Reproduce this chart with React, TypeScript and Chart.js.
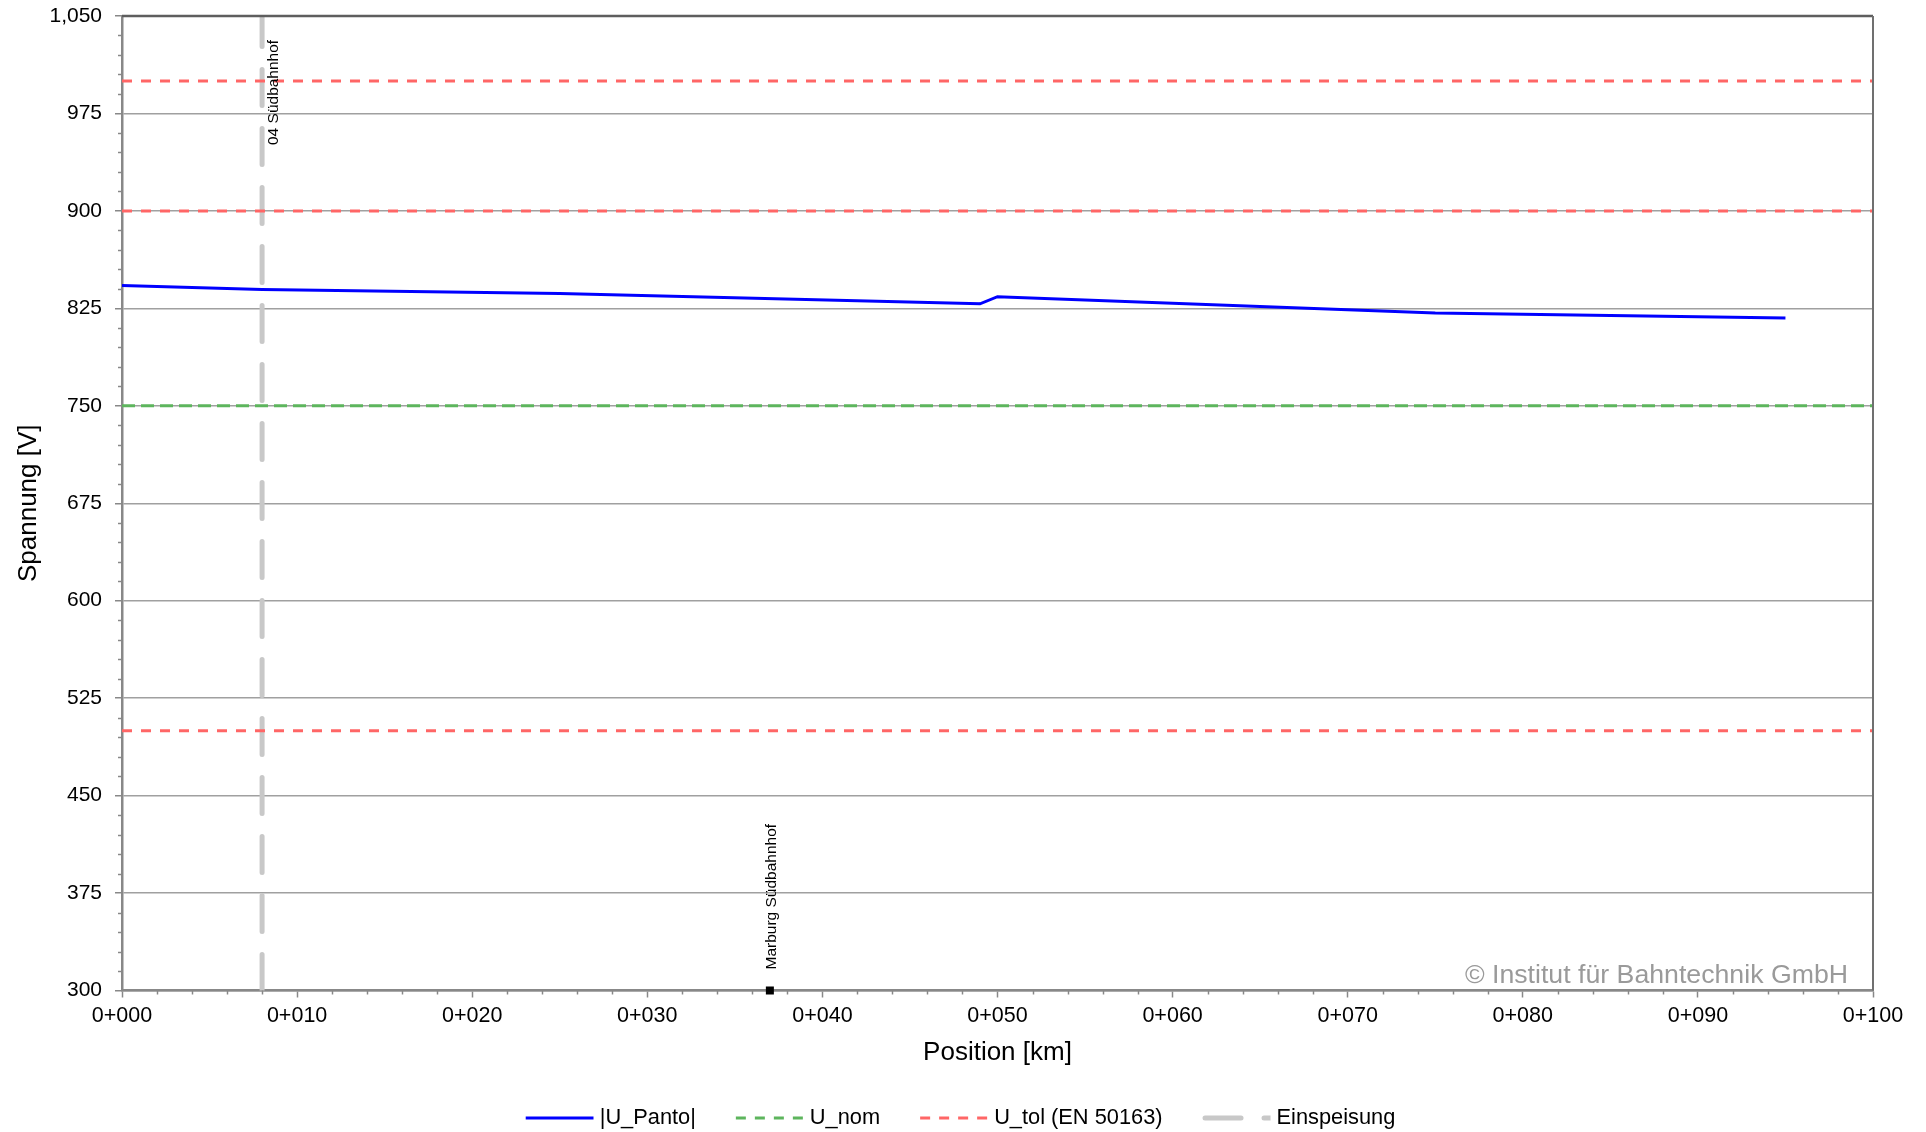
import { useEffect, useRef } from "react";
import { Chart, registerables } from "chart.js";

Chart.register(...registerables);

// ---- data ----
const positionKm = [0, 8, 25, 49, 50, 75, 95];
const uPanto = [842.5, 839.5, 836.5, 828.5, 834, 821.5, 817.5];
const uNom = 750;
const uTolLevels = [1000, 900, 500];
const feedKm = 8;
const feedLabel = "04 Südbahnhof";
const stationKm = 37;
const stationLabel = "Marburg Südbahnhof";
const seriesNames = ["|U_Panto|", "U_nom", "U_tol (EN 50163)", "Einspeisung"];
const xTitle = "Position [km]";
const yTitle = "Spannung [V]";
const copyrightText = "© Institut für Bahntechnik GmbH";
const xMin = 0, xMax = 100, xStep = 10, xMinorStep = 2;
const yMin = 300, yMax = 1050, yStep = 75, yMinorStep = 15;

// ---- styles ----
const FONT = '"Liberation Sans", Arial, Helvetica, sans-serif';
const C_BLUE = "#0000FF";
const C_GREEN = "#5DB55D";
const C_RED = "#FF6666";
const C_GRAY = "#C8C8C8";
const DASH_TOL = [10, 9];
const DASH_NOM = [13, 6];
const DASH_FEED = [36, 23];

const decorPlugin = {
  id: "decor",
  afterDraw(chart: any) {
    const { ctx, chartArea: ca, scales } = chart;
    const x = scales.x;
    const y = scales.y;
    ctx.save();

    // minor ticks
    ctx.strokeStyle = "#888888";
    ctx.lineWidth = 1.5;
    for (let v = yMin; v <= yMax; v += yMinorStep) {
      if ((v - yMin) % yStep === 0) continue;
      const py = Math.round(y.getPixelForValue(v)) + 0.5;
      ctx.beginPath();
      ctx.moveTo(ca.left - 4, py);
      ctx.lineTo(ca.left, py);
      ctx.stroke();
    }
    for (let v = xMin; v <= xMax; v += xMinorStep) {
      if ((v - xMin) % xStep === 0) continue;
      const px = Math.round(x.getPixelForValue(v)) + 0.5;
      ctx.beginPath();
      ctx.moveTo(px, ca.bottom);
      ctx.lineTo(px, ca.bottom + 4);
      ctx.stroke();
    }

    // frame top and right
    ctx.strokeStyle = "#5E5E5E";
    ctx.lineWidth = 2.5;
    ctx.beginPath();
    ctx.moveTo(ca.left, ca.top);
    ctx.lineTo(ca.right, ca.top);
    ctx.stroke();
    ctx.strokeStyle = "#707070";
    ctx.lineWidth = 2;
    ctx.beginPath();
    ctx.moveTo(ca.right, ca.top);
    ctx.lineTo(ca.right, ca.bottom);
    ctx.stroke();

    // station labels (rotated)
    ctx.fillStyle = "#000000";
    ctx.font = `15.5px ${FONT}`;
    ctx.textAlign = "left";
    ctx.textBaseline = "alphabetic";
    ctx.save();
    ctx.translate(x.getPixelForValue(feedKm) + 16, ca.top + 129);
    ctx.rotate(-Math.PI / 2);
    ctx.fillText(feedLabel, 0, 0);
    ctx.restore();
    ctx.save();
    ctx.translate(x.getPixelForValue(stationKm) + 6.5, ca.bottom - 21);
    ctx.rotate(-Math.PI / 2);
    ctx.fillText(stationLabel, 0, 0);
    ctx.restore();

    // copyright
    ctx.font = `26.7px ${FONT}`;
    ctx.fillStyle = "#9A9A9A";
    ctx.textAlign = "right";
    ctx.textBaseline = "alphabetic";
    ctx.fillText(copyrightText, ca.right - 25, ca.bottom - 7.5);

    // legend
    const items = [
      { label: seriesNames[0], color: C_BLUE, dash: [] as number[], width: 3, cap: "butt" },
      { label: seriesNames[1], color: C_GREEN, dash: DASH_TOL, width: 3, cap: "butt" },
      { label: seriesNames[2], color: C_RED, dash: DASH_TOL, width: 3, cap: "butt" },
      { label: seriesNames[3], color: C_GRAY, dash: DASH_FEED, width: 5, cap: "round" },
    ];
    ctx.font = `21.8px ${FONT}`;
    const sampleW = 68, gapText = 6, gapItem = 40;
    const widths = items.map((it) => ctx.measureText(it.label).width);
    const total = items.length * (sampleW + gapText) + widths.reduce((a, b) => a + b, 0) + (items.length - 1) * gapItem;
    let cx = 960.5 - total / 2;
    const ly = 1118;
    items.forEach((it, i) => {
      ctx.save();
      ctx.beginPath();
      ctx.rect(cx - 3, ly - 10, sampleW + 3, 20);
      ctx.clip();
      ctx.strokeStyle = it.color;
      ctx.lineWidth = it.width;
      ctx.lineCap = it.cap as CanvasLineCap;
      ctx.setLineDash(it.dash);
      ctx.beginPath();
      ctx.moveTo(cx + (it.cap === "round" ? 2.5 : 0), ly);
      ctx.lineTo(cx + sampleW, ly);
      ctx.stroke();
      ctx.restore();
      ctx.fillStyle = "#000000";
      ctx.textAlign = "left";
      ctx.textBaseline = "middle";
      ctx.fillText(it.label, cx + sampleW + gapText, ly);
      cx += sampleW + gapText + widths[i] + gapItem;
    });

    ctx.restore();
  },
};

export default function App() {
  const canvasRef = useRef<HTMLCanvasElement | null>(null);

  useEffect(() => {
    if (!canvasRef.current) return;

    const tolData: any[] = [];
    uTolLevels.forEach((lvl, i) => {
      if (i > 0) tolData.push({ x: xMax, y: null });
      tolData.push({ x: xMin, y: lvl });
      tolData.push({ x: xMax, y: lvl });
    });

    const chart = new Chart(canvasRef.current, {
      type: "line",
      data: {
        datasets: [
          {
            type: "scatter",
            label: stationLabel,
            data: [{ x: stationKm, y: yMin }],
            pointStyle: "rect",
            pointRadius: 5.66,
            pointBorderWidth: 0,
            backgroundColor: "#000000",
            borderColor: "#000000",
            showLine: false,
            clip: false as any,
          } as any,
          {
            label: seriesNames[0],
            data: positionKm.map((p, i) => ({ x: p, y: uPanto[i] })),
            borderColor: C_BLUE,
            borderWidth: 3,
            pointRadius: 0,
            tension: 0,
          },
          {
            label: seriesNames[1],
            data: [{ x: xMin, y: uNom }, { x: xMax, y: uNom }],
            borderColor: C_GREEN,
            borderWidth: 3,
            borderDash: DASH_NOM,
            pointRadius: 0,
          },
          {
            label: seriesNames[2],
            data: tolData,
            borderColor: C_RED,
            borderWidth: 3,
            borderDash: DASH_TOL,
            pointRadius: 0,
            spanGaps: false,
          },
          {
            label: seriesNames[3],
            data: [{ x: feedKm, y: yMin }, { x: feedKm, y: yMax }],
            borderColor: C_GRAY,
            borderWidth: 5,
            borderDash: DASH_FEED,
            borderCapStyle: "round",
            pointRadius: 0,
          },
        ],
      },
      options: {
        animation: false,
        responsive: false,
        devicePixelRatio: 1,
        events: [],
        layout: { padding: { top: 16, right: 53, left: 0, bottom: 0 } },
        plugins: {
          legend: { display: false },
          tooltip: { enabled: false },
        },
        scales: {
          x: {
            type: "linear",
            min: xMin,
            max: xMax,
            afterFit: (s: any) => {
              s.height = 141.5;
              s.paddingLeft = 0;
              s.paddingRight = 0;
            },
            ticks: {
              stepSize: xStep,
              autoSkip: false,
              maxRotation: 0,
              padding: 6,
              color: "#000000",
              font: { family: FONT, size: 21.5 },
              callback: (v: any) => `0+${String(Math.round(Number(v))).padStart(3, "0")}`,
            },
            grid: {
              drawOnChartArea: false,
              drawTicks: true,
              tickLength: 7,
              tickColor: "#888888",
              tickWidth: 1.5,
            },
            border: { display: true, color: "#888888", width: 2.5 },
            title: {
              display: true,
              text: xTitle,
              color: "#000000",
              font: { family: FONT, size: 26 },
              padding: { top: 0, bottom: 64 },
            },
          },
          y: {
            type: "linear",
            min: yMin,
            max: yMax,
            afterFit: (s: any) => {
              s.width = 122;
              s.paddingTop = 0;
              s.paddingBottom = 0;
            },
            ticks: {
              stepSize: yStep,
              padding: 13,
              color: "#000000",
              font: { family: FONT, size: 21 },
              callback: (v: any) => Number(v).toLocaleString("en-US"),
            },
            grid: {
              color: "#A0A0A0",
              lineWidth: 1.5,
              drawTicks: true,
              tickLength: 7,
              tickColor: "#888888",
              tickWidth: 1.5,
            },
            border: { display: true, color: "#888888", width: 2.5 },
            title: {
              display: true,
              text: yTitle,
              color: "#000000",
              font: { family: FONT, size: 26 },
              padding: { top: 13, bottom: 0 },
            },
          },
        },
      },
      plugins: [decorPlugin],
    } as any);

    return () => chart.destroy();
  }, []);

  return (
    <canvas
      ref={canvasRef}
      width={1926}
      height={1132}
      style={{ position: "absolute", left: 0, top: 0, width: 1926, height: 1132, display: "block" }}
    />
  );
}
